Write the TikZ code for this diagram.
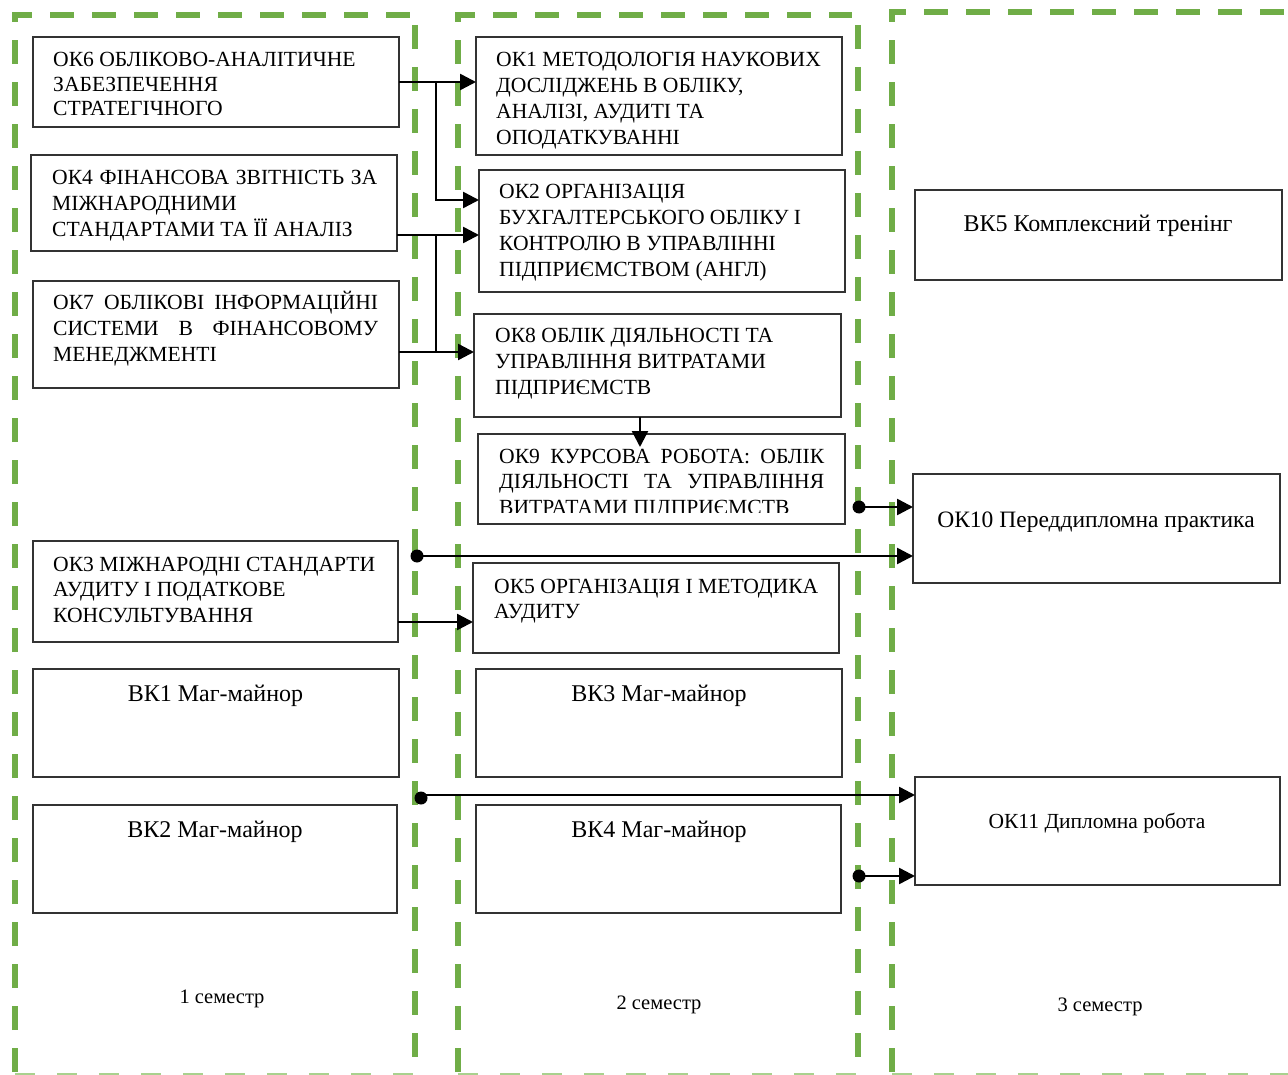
\documentclass[tikz,border=0pt]{standalone}
\usepackage{fontspec}
\setmainfont{Liberation Serif}
\usetikzlibrary{arrows.meta,calc}
\definecolor{grn}{HTML}{70AD47}
\definecolor{grnlight}{HTML}{A9D18E}
\newcommand{\mline}[1]{\hbox{#1}}
\newcommand{\jl}[1]{\hbox{\makebox[325pt][s]{#1}}}
\newcommand{\blk}[2][25.8pt]{\vtop{\baselineskip=#1\lineskiplimit=-50pt\lineskip=0pt #2}}
\begin{document}
\begin{tikzpicture}[x=1pt,y=-1pt,
  box/.style={draw=black!80, line width=1.5pt, rectangle, inner sep=0pt, outer sep=0pt},
  txt/.style={inner sep=0pt, font=\fontsize{21.6}{26}\selectfont, anchor=base west},
  ctxt/.style={inner sep=0pt, font=\fontsize{24}{28}\selectfont, anchor=base},
  semtxt/.style={inner sep=0pt, font=\fontsize{20.5}{24}\selectfont, anchor=base},
  region/.style={draw=grn, line width=6pt, dash pattern=on 24pt off 18pt},
  regbottom/.style={draw=grnlight, line width=2.5pt, dash pattern=on 20pt off 22pt},
  conn/.style={draw=black, line width=2.5pt},
  arr/.style={conn, -{Triangle[length=16pt,width=16pt]}},
  dot/.style={circle, fill=black, minimum size=13pt, inner sep=0pt},
]
\useasboundingbox (0,0) rectangle (1288,1075);
\clip (0,0) rectangle (1288,1075);

% semester regions
\draw[region] (15,1072) -- (15,15) -- (410,15);
\draw[region] (415,25) -- (415,1072);
\draw[regbottom] (15,1074) -- (415,1074);
\draw[region] (458,1072) -- (458,15) -- (852,15);
\draw[region] (858,25) -- (858,1072);
\draw[regbottom] (458,1074) -- (858,1074);
\draw[region] (892,1072) -- (892,12) -- (1300,12);
\draw[regbottom] (892,1074) -- (1300,1074);

% boxes, column 1
\node[box, minimum width=366pt, minimum height=90pt]  (ok6) at (216,82) {};
\node[box, minimum width=366pt, minimum height=96pt]  (ok4) at (214,203) {};
\node[box, minimum width=366pt, minimum height=107pt] (ok7) at (216,334.5) {};
\node[box, minimum width=365pt, minimum height=101pt] (ok3) at (215.5,591.5) {};
\node[box, minimum width=366pt, minimum height=108pt] (vk1) at (216,723) {};
\node[box, minimum width=364pt, minimum height=108pt] (vk2) at (215,859) {};
% boxes, column 2
\node[box, minimum width=366pt, minimum height=118pt] (ok1) at (659,96) {};
\node[box, minimum width=366pt, minimum height=122pt] (ok2) at (662,231) {};
\node[box, minimum width=367pt, minimum height=103pt] (ok8) at (657.5,365.5) {};
\node[box, minimum width=367pt, minimum height=90pt]  (ok9) at (661.5,479) {};
\node[box, minimum width=366pt, minimum height=90pt]  (ok5) at (656,608) {};
\node[box, minimum width=366pt, minimum height=108pt] (vk3) at (659,723) {};
\node[box, minimum width=365pt, minimum height=108pt] (vk4) at (658.5,859) {};
% boxes, column 3
\node[box, minimum width=367pt, minimum height=90pt]  (vk5)  at (1098.5,235) {};
\node[box, minimum width=367pt, minimum height=109pt] (ok10) at (1096.5,528.5) {};
\node[box, minimum width=365pt, minimum height=108pt] (ok11) at (1097.5,831) {};

% texts, column 1
\node[txt] (ok6t) at (53,67) {\blk[24.5pt]{\mline{ОК6 ОБЛІКОВО-АНАЛІТИЧНЕ}\mline{ЗАБЕЗПЕЧЕННЯ}\mline{СТРАТЕГІЧНОГО}}};
\node[txt] (ok4t) at (52,185) {\blk{\jl{ОК4 ФІНАНСОВА ЗВІТНІСТЬ ЗА}\mline{МІЖНАРОДНИМИ}\mline{СТАНДАРТАМИ ТА ЇЇ АНАЛІЗ}}};
\node[txt] (ok7t) at (53,310) {\blk{\jl{ОК7 ОБЛІКОВІ ІНФОРМАЦІЙНІ}\jl{СИСТЕМИ В ФІНАНСОВОМУ}\mline{МЕНЕДЖМЕНТІ}}};
\node[txt] (ok3t) at (53,571) {\blk{\mline{ОК3 МІЖНАРОДНІ СТАНДАРТИ}\mline{АУДИТУ І ПОДАТКОВЕ}\mline{КОНСУЛЬТУВАННЯ}}};
\node[ctxt] (vk1t) at (215.5,701) {ВК1 Маг-майнор};
\node[ctxt] (vk2t) at (215,837) {ВК2 Маг-майнор};
% texts, column 2
\node[txt] (ok1t) at (496,67) {\blk{\mline{ОК1 МЕТОДОЛОГІЯ НАУКОВИХ}\mline{ДОСЛІДЖЕНЬ В ОБЛІКУ,}\mline{АНАЛІЗІ, АУДИТІ ТА}\mline{ОПОДАТКУВАННІ}}};
\node[txt] (ok2t) at (499,199) {\blk{\mline{ОК2 ОРГАНІЗАЦІЯ}\mline{БУХГАЛТЕРСЬКОГО ОБЛІКУ І}\mline{КОНТРОЛЮ В УПРАВЛІННІ}\mline{ПІДПРИЄМСТВОМ (АНГЛ)}}};
\node[txt] (ok8t) at (495,343) {\blk{\mline{ОК8 ОБЛІК ДІЯЛЬНОСТІ ТА}\mline{УПРАВЛІННЯ ВИТРАТАМИ}\mline{ПІДПРИЄМСТВ}}};
\begin{scope}
\clip (478,434) rectangle (845,512.7);
\node[txt] (ok9t) at (499,463) {\blk{\jl{ОК9 КУРСОВА РОБОТА: ОБЛІК}\jl{ДІЯЛЬНОСТІ ТА УПРАВЛІННЯ}\mline{ВИТРАТАМИ ПІДПРИЄМСТВ}}};
\end{scope}
\node[txt] (ok5t) at (494,593) {\blk[25pt]{\mline{ОК5 ОРГАНІЗАЦІЯ І МЕТОДИКА}\mline{АУДИТУ}}};
\node[ctxt] (vk3t) at (659,701) {ВК3 Маг-майнор};
\node[ctxt] (vk4t) at (659,837) {ВК4 Маг-майнор};
% texts, column 3
\node[ctxt] (vk5t) at (1098,232) {ВК5 Комплексний тренінг};
\node[ctxt, font=\fontsize{23.5}{28}\selectfont] (ok10t) at (1096,527) {ОК10 Переддипломна практика};
\node[ctxt, font=\fontsize{21.5}{26}\selectfont] (ok11t) at (1097,828) {ОК11 Дипломна робота};
% semester labels
\node[semtxt] (s1) at (222,1003) {1 семестр};
\node[semtxt] (s2) at (659,1009) {2 семестр};
\node[semtxt] (s3) at (1100,1011) {3 семестр};

% connectors
\coordinate (b1) at (436,82);
\coordinate (r1) at (436,200);
\coordinate (b2) at (436,235);
\coordinate (b3) at (436,352);
\draw[arr] (ok6.east |- b1) -- (ok1.west |- b1);
\draw[arr] (b1) -- (r1) -- (ok2.west |- r1);
\draw[arr] (ok4.east |- b2) -- (ok2.west |- b2);
\draw[conn] (b2) -- (b3);
\draw[arr] (ok7.east |- b3) -- (ok8.west |- b3);
\coordinate (t9) at (640,447);
\draw[arr] (ok8.south -| t9) -- (t9);
\coordinate (b4) at (436,622);
\draw[arr] (ok3.east |- b4) -- (ok5.west |- b4);

\node[dot] (d1) at (859,507) {};
\node[dot] (d2) at (417,556) {};
\node[dot] (d3) at (421,798) {};
\node[dot] (d4) at (859,876) {};
\coordinate (c3) at (421,795);
\draw[arr] (d1.center) -- (ok10.west |- d1.center);
\draw[arr] (d2.center) -- (ok10.west |- d2.center);
\draw[arr] (c3) -- (ok11.west |- c3);
\draw[arr] (d4.center) -- (ok11.west |- d4.center);
\end{tikzpicture}
\end{document}
